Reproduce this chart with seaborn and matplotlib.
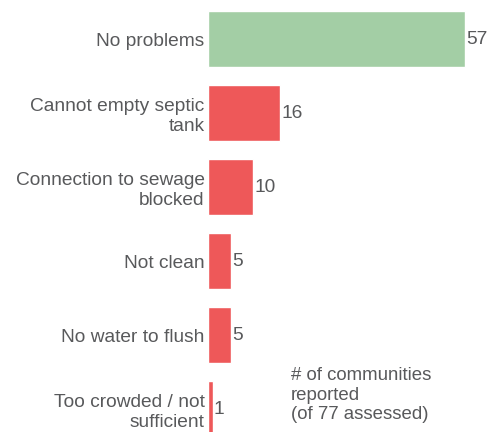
## sanitation problems reported, horizontal bar chart

import pandas as pd
import seaborn as sns
import matplotlib.pyplot as plt

# categories and counts
problems = ["No problems", "Cannot empty septic\ntank", "Connection to sewage\nblocked",
            "Not clean", "No water to flush", "Too crowded / not\nsufficient"]
counts = [57, 16, 10, 5, 5, 1]
bar_colors = ["#A3CEA5", "#EE5859", "#EE5859", "#EE5859", "#EE5859", "#EE5859"]
note = "# of communities\nreported\n(of 77 assessed)"

df = pd.DataFrame({"Problem": problems, "Count": counts})
palette = dict(zip(problems, bar_colors))
text_col = "#58595B"

sns.set_style("white")
plt.rcParams['font.family'] = ['Liberation Sans', 'DejaVu Sans']

fig = plt.figure(figsize=(4.88, 4.32), dpi=100)
ax = fig.add_axes([208/488, 0, 280/488, 1])

sns.barplot(data=df, x="Count", y="Problem", hue="Problem", palette=palette,
            legend=False, width=0.757, saturation=1, ax=ax)

ax.set_xlim(0, 62.1)
ax.set_ylim(5.31, -0.527)
ax.set(xlabel="", ylabel="", xticks=[])
sns.despine(ax=ax, left=True, bottom=True)
ax.tick_params(axis="y", length=0, pad=2.5, labelsize=13.8, labelcolor=text_col)
for lab in ax.get_yticklabels():
    lab.set_linespacing(1.2)

for c in ax.containers:
    ax.bar_label(c, padding=1, fontsize=13.8, color=text_col)

fig.text(291/488, 1 - 367/432, note, ha="left", va="top", fontsize=13.4,
         color=text_col, linespacing=1.2)

fig.savefig("out.png", dpi=100)
plt.close()
